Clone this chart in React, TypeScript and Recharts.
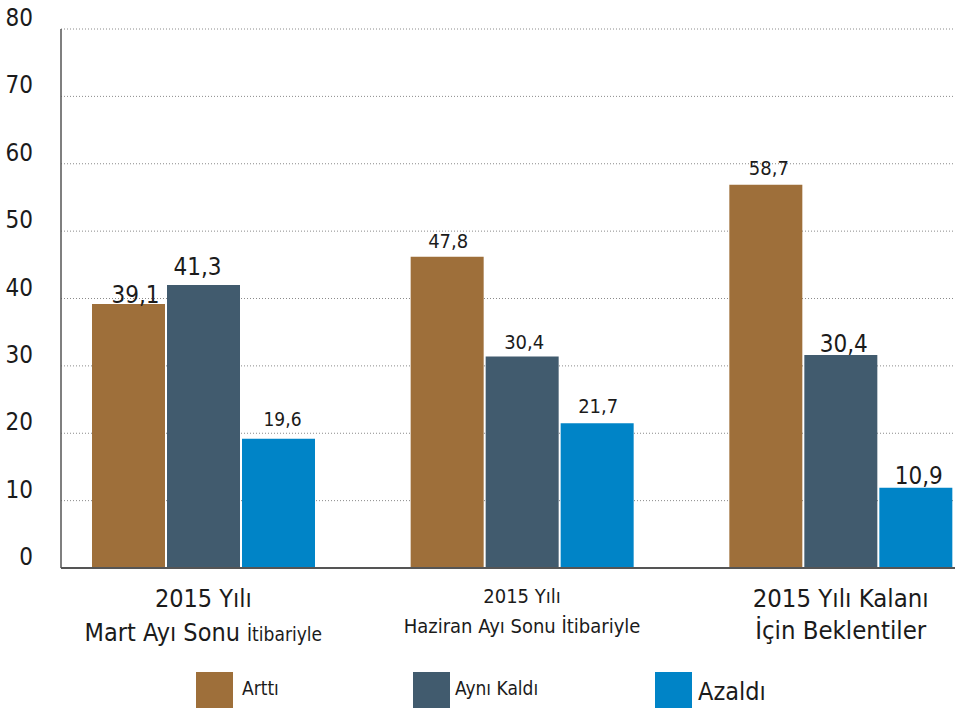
import React from "react";
import { BarChart, Bar, XAxis, YAxis, CartesianGrid, LabelList } from "recharts";

const FONT = "'DejaVu Sans Condensed', 'DejaVu Sans', sans-serif";

// categories: first line + second line (second line may be split in two font sizes)
const categoryKeys = ["mart", "haziran", "kalan"];
const categoryTitles = ["2015 Yılı", "2015 Yılı", "2015 Yılı Kalanı"];
const categorySubtitles = [
  ["Mart Ayı Sonu ", "İtibariyle"],
  ["Haziran Ayı Sonu İtibariyle"],
  ["İçin Beklentiler"],
];

const seriesNames = ["Arttı", "Aynı Kaldı", "Azaldı"];

// bar heights as drawn
const arttiValues = [39.2, 46.2, 56.9];
const ayniValues = [42.0, 31.4, 31.6];
const azaldiValues = [19.2, 21.5, 11.9];

// printed value labels
const arttiLabels = ["39,1", "47,8", "58,7"];
const ayniLabels = ["41,3", "30,4", "30,4"];
const azaldiLabels = ["19,6", "21,7", "10,9"];

const yTicks = [0, 10, 20, 30, 40, 50, 60, 70, 80];

const COLORS = ["#9E6F3A", "#415B6E", "#0084C7"];

// label look per series / category
const LABEL_STYLE: Record<string, { size: number[]; dy: number[]; dx: number[] }> = {
  artti: { size: [24, 20, 20], dy: [-1, -9, -10], dx: [7, 1, 3] },
  ayni: { size: [24, 20, 24], dy: [-10, -7, -3], dx: [-6, 2, 3] },
  azaldi: { size: [19, 20, 24], dy: [-13, -10, -4], dx: [4, 1, 3] },
};

const TICK_STYLE = [
  { title: 25, sub: [25, 19], titleDy: 39, subDy: 73 },
  { title: 20, sub: [20], titleDy: 35, subDy: 65 },
  { title: 25.5, sub: [25.5], titleDy: 39, subDy: 71 },
];

const LEGEND_LAYOUT = [
  { swatchX: 196, textX: 242, size: 19, baseline: 695 },
  { swatchX: 413, textX: 455, size: 19, baseline: 695 },
  { swatchX: 655, textX: 698, size: 25, baseline: 700 },
];

const data = categoryKeys.map((key, i) => ({
  name: key,
  artti: arttiValues[i],
  ayni: ayniValues[i],
  azaldi: azaldiValues[i],
  arttiLabel: arttiLabels[i],
  ayniLabel: ayniLabels[i],
  azaldiLabel: azaldiLabels[i],
}));

const makeLabel = (series: string) => (props: any) => {
  const { x, y, width, index, value } = props;
  const st = LABEL_STYLE[series];
  return (
    <text
      x={x + width / 2 + st.dx[index]}
      y={y + st.dy[index]}
      textAnchor="middle"
      fontFamily={FONT}
      fontSize={st.size[index]}
      fill="#1b1b1b"
    >
      {value}
    </text>
  );
};

const CategoryTick = (props: any) => {
  const { x, y, payload } = props;
  const i = categoryKeys.indexOf(payload.value);
  const st = TICK_STYLE[i];
  const sub = categorySubtitles[i];
  return (
    <g>
      <text x={x} y={y + st.titleDy} textAnchor="middle" fontFamily={FONT} fontSize={st.title} fill="#1b1b1b">
        {categoryTitles[i]}
      </text>
      <text x={x} y={y + st.subDy} textAnchor="middle" fontFamily={FONT} fill="#1b1b1b">
        {sub.map((part, j) => (
          <tspan key={j} fontSize={st.sub[j]}>
            {part}
          </tspan>
        ))}
      </text>
    </g>
  );
};

const ValueTick = (props: any) => {
  const { y, payload } = props;
  return (
    <text x={33} y={y - 3} textAnchor="end" fontFamily={FONT} fontSize={24} fill="#1b1b1b">
      {payload.value}
    </text>
  );
};

const seriesKeys = ["artti", "ayni", "azaldi"];

export default function App() {
  return (
    <div style={{ position: "absolute", left: 0, top: 0, width: 957, height: 714, background: "#fff" }}>
      <BarChart
        width={957}
        height={714}
        data={data}
        margin={{ top: 29, right: 2, left: 0, bottom: 46 }}
        barGap={2}
        barSize={73}
      >
        <CartesianGrid vertical={false} stroke="#8a8a8a" strokeDasharray="1 2" />
        <XAxis
          dataKey="name"
          height={100}
          interval={0}
          tickLine={false}
          tickSize={0}
          tickMargin={0}
          axisLine={{ stroke: "#555", strokeWidth: 2 }}
          padding={{ left: -17, right: -45 }}
          tick={<CategoryTick />}
        />
        <YAxis
          width={61}
          domain={[0, 80]}
          ticks={yTicks}
          interval={0}
          tickLine={false}
          axisLine={{ stroke: "#555", strokeWidth: 1.5 }}
          tick={<ValueTick />}
        />
        {seriesKeys.map((key, s) => (
          <Bar key={key} dataKey={key} name={seriesNames[s]} fill={COLORS[s]} isAnimationActive={false}>
            <LabelList dataKey={`${key}Label`} content={makeLabel(key)} />
          </Bar>
        ))}
      </BarChart>
      <svg width={957} height={714} style={{ position: "absolute", left: 0, top: 0, pointerEvents: "none" }}>
        {seriesNames.map((name, s) => (
          <g key={name}>
            <rect x={LEGEND_LAYOUT[s].swatchX} y={672} width={37} height={36} fill={COLORS[s]} />
            <text
              x={LEGEND_LAYOUT[s].textX}
              y={LEGEND_LAYOUT[s].baseline}
              fontFamily={FONT}
              fontSize={LEGEND_LAYOUT[s].size}
              fill="#1b1b1b"
            >
              {name}
            </text>
          </g>
        ))}
      </svg>
    </div>
  );
}
